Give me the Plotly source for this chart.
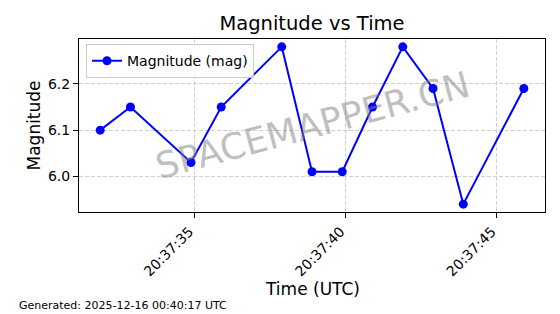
import plotly.graph_objects as go
import pandas as pd

# ---- data ----
times = [
    "2025-12-15 20:37:31.89", "2025-12-15 20:37:32.89", "2025-12-15 20:37:34.89",
    "2025-12-15 20:37:35.89", "2025-12-15 20:37:37.89", "2025-12-15 20:37:38.89",
    "2025-12-15 20:37:39.89", "2025-12-15 20:37:40.89", "2025-12-15 20:37:41.89",
    "2025-12-15 20:37:42.89", "2025-12-15 20:37:43.89", "2025-12-15 20:37:45.89",
]
magnitudes = [6.10, 6.15, 6.03, 6.15, 6.28, 6.01, 6.01, 6.15, 6.28, 6.19, 5.94, 6.19]
series_name = "Magnitude (mag)"
title_text = "Magnitude vs Time"
x_label = "Time (UTC)"
y_label = "Magnitude"
footer_text = "Generated: 2025-12-16 00:40:17 UTC"
watermark_text = "SPACEMAPPER.CN"

# ---- layout geometry ----
W, H = 560, 314
L, R, T, B = 79, 15, 39, 102
FONT = "DejaVu Sans"

t = pd.to_datetime(times)
span = t.max() - t.min()
x_range = [t.min() - 0.05 * span, t.max() + 0.05 * span]
ymin, ymax = min(magnitudes), max(magnitudes)
yspan = ymax - ymin
y_range = [ymin - 0.05 * yspan, ymax + 0.05 * yspan]

fig = go.Figure()
fig.add_trace(go.Scatter(
    x=t, y=magnitudes, mode="lines+markers", name=series_name,
    line=dict(color="#0000ff", width=2),
    marker=dict(color="#0000ff", size=9),
))

plot_h = H - T - B
GRID = dict(showgrid=True, gridcolor="#cfcfcf", griddash="4px,2px", gridwidth=1)

fig.update_layout(
    width=W, height=H,
    margin=dict(l=L, r=R, t=T, b=B, pad=0),
    paper_bgcolor="white", plot_bgcolor="white",
    font=dict(family=FONT, size=14, color="black"),
    showlegend=True,
    legend=dict(
        x=0.015, y=0.97, xanchor="left", yanchor="top",
        bgcolor="rgba(255,255,255,0.8)", bordercolor="#cccccc", borderwidth=1,
        font=dict(family=FONT, size=14, color="black"),
    ),
    title=dict(
        text=title_text, x=0.5, xref="paper", xanchor="center",
        y=1 - 23 / H, yref="container", yanchor="middle",
        font=dict(family=FONT, size=19.5, color="black"),
    ),
    xaxis=dict(
        type="date", range=x_range,
        tick0="2025-12-15 20:37:35", dtick=5000, tickformat="%H:%M:%S",
        tickangle=-45, ticks="outside", ticklen=5, tickcolor="black", tickwidth=1,
        ticklabelshift=-5,
        showline=True, linecolor="black", linewidth=1, mirror=True,
        zeroline=False, tickfont=dict(family=FONT, size=14, color="black"),
        **GRID,
    ),
    yaxis=dict(
        range=y_range, tick0=6.0, dtick=0.1, tickformat=".1f",
        ticks="outside", ticklen=5, tickcolor="black", tickwidth=1,
        showline=True, linecolor="black", linewidth=1, mirror=True,
        zeroline=False, tickfont=dict(family=FONT, size=14, color="black"),
        **GRID,
    ),
    annotations=[
        dict(text=x_label, xref="paper", yref="paper", x=0.5,
             y=-(288.5 - (H - B)) / plot_h, xanchor="center", yanchor="middle",
             showarrow=False, font=dict(family=FONT, size=17, color="black")),
        dict(text=y_label, xref="paper", yref="paper", x=-(L - 33) / (W - L - R),
             y=0.5, xanchor="center", yanchor="middle", textangle=-90,
             showarrow=False, font=dict(family=FONT, size=17, color="black")),
        dict(text=footer_text, xref="paper", yref="paper",
             x=-(L - 17) / (W - L - R), y=-(305 - (H - B)) / plot_h,
             xanchor="left", yanchor="middle", showarrow=False,
             font=dict(family=FONT, size=11, color="black")),
        dict(text=watermark_text, xref="paper", yref="paper", x=0.5, y=0.5,
             xanchor="center", yanchor="middle", textangle=-15, showarrow=False,
             font=dict(family=FONT, size=36, color="rgba(128,128,128,0.5)")),
    ],
)

fig.write_html("out.html")
